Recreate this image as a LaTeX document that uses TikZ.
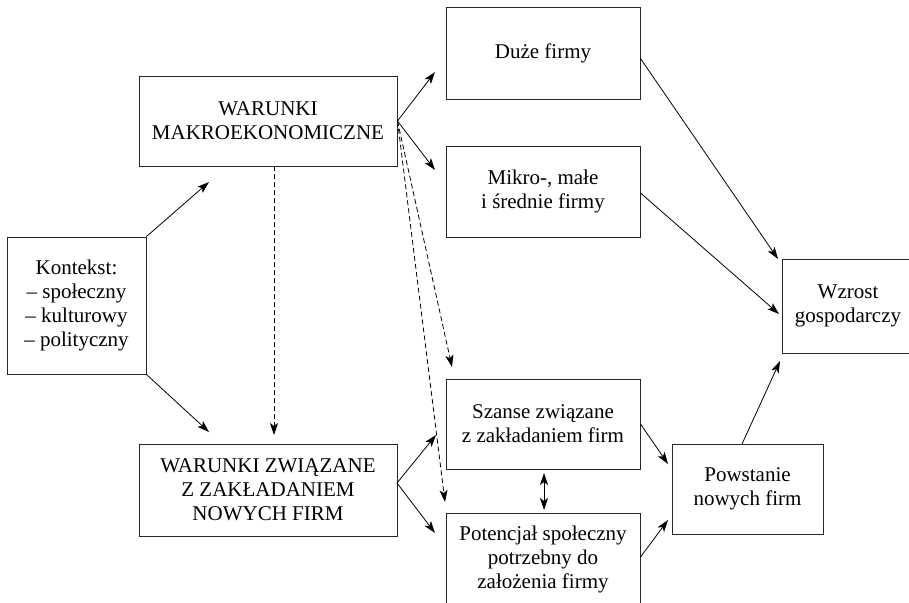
\documentclass[tikz,border=0pt]{standalone}
\usepackage{fontspec}
\setmainfont{Liberation Serif}
\usetikzlibrary{arrows.meta}
\begin{document}
\begin{tikzpicture}[x=1pt,y=-1pt,
  box/.style={draw=black!85, line width=1pt, align=center, inner sep=0pt,
    font=\fontsize{21}{24}\selectfont, text=black},
  tip/.style={Stealth[length=12pt,width=8pt,inset=3pt]},
  conn/.style={line width=0.8pt, draw=black, -{Stealth[length=12pt,width=8pt,inset=3pt]}},
  dashconn/.style={conn, dash pattern=on 5pt off 3pt},
  biconn/.style={line width=0.8pt, draw=black,
    {Stealth[length=12pt,width=8pt,inset=3pt]}-{Stealth[length=12pt,width=8pt,inset=3pt]}},
]
\useasboundingbox (0,0) rectangle (909,602);
\clip (0,0) rectangle (909,602);

% boxes
\node[box, minimum width=258pt, minimum height=90pt] (makro) at (268,121)
  {WARUNKI\\MAKROEKONOMICZNE};
\node[box, minimum width=139pt, minimum height=137pt] (kontekst) at (76.5,305.5)
  {Kontekst:\\– społeczny\\– kulturowy\\– polityczny};
\node[box, minimum width=258pt, minimum height=92pt] (wz) at (268,490)
  {WARUNKI ZWIĄZANE\\Z ZAKŁADANIEM\\NOWYCH FIRM};
\node[box, minimum width=194pt, minimum height=91pt] (duze) at (543,53.5)
  {Duże firmy};
\node[box, minimum width=194pt, minimum height=91pt] (mikro) at (543,191.5)
  {Mikro-, małe\\i średnie firmy};
\node[box, minimum width=194pt, minimum height=90pt] (szanse) at (543,424)
  {Szanse związane\\z zakładaniem firm};
\node[box, minimum width=194pt, minimum height=92pt] (potencjal) at (543,559)
  {Potencjał społeczny\\potrzebny do\\założenia firmy};
\node[box, minimum width=151pt, minimum height=90pt] (powstanie) at (747.5,489)
  {Powstanie\\nowych firm};
\node[box, minimum width=132pt, minimum height=94pt] (wzrost) at (848,306)
  {Wzrost\\gospodarczy};

% free ends of the connectors
\coordinate (kUp)   at (209,182);
\coordinate (kDown) at (209,432);
\coordinate (mDown) at (274,435);
\coordinate (mTop)  at (274,166);
\coordinate (mDuze) at (435,72);
\coordinate (mMikro) at (435,170);
\coordinate (mSz)   at (452,367);
\coordinate (mPot)  at (445,502);
\coordinate (wzOut) at (397,483);
\coordinate (wSz)   at (436,435);
\coordinate (wPot)  at (435,533);
\coordinate (zDuze) at (778,259);
\coordinate (zMikro) at (779,314);
\coordinate (zPow)  at (780,361);
\coordinate (pSz)   at (668,464);
\coordinate (pPot)  at (668,520);
\coordinate (powTop) at (742,444);
\coordinate (biTop) at (544,473);
\coordinate (biBot) at (544,510);

% connectors
\draw[conn] (kontekst.north east) -- (kUp);
\draw[conn] (kontekst.south east) -- (kDown);
\draw[dashconn] (mTop) -- (mDown);
\draw[conn] (makro.east) -- (mDuze);
\draw[conn] (makro.east) -- (mMikro);
\draw[dashconn] (makro.east) -- (mSz);
\draw[dashconn] (makro.east) -- (mPot);
\draw[conn] (wzOut) -- (wSz);
\draw[conn] (wzOut) -- (wPot);
\draw[conn] ([yshift=-5pt]duze.east) -- (zDuze);
\draw[conn] ([yshift=-1.5pt]mikro.east) -- (zMikro);
\draw[conn] (szanse.east) -- (pSz);
\draw[conn] ([yshift=2pt]potencjal.east) -- (pPot);
\draw[conn] (powTop) -- (zPow);
\draw[biconn] (biTop) -- (biBot);
\end{tikzpicture}
\end{document}
